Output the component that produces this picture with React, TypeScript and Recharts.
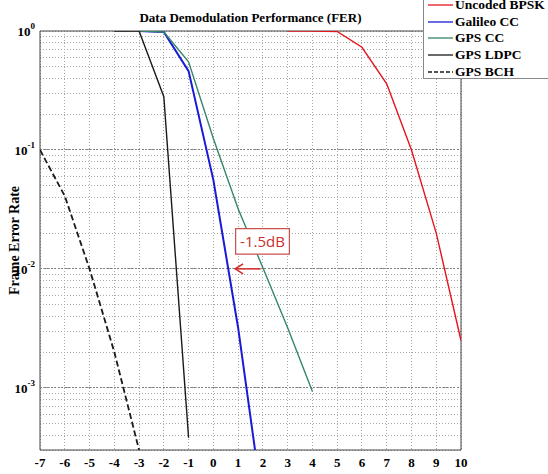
import React from 'react';
import { LineChart, Line, XAxis, YAxis, CartesianGrid, ReferenceLine, ReferenceArea } from 'recharts';

// ---- data ----
const xTicks = [-7, -6, -5, -4, -3, -2, -1, 0, 1, 2, 3, 4, 5, 6, 7, 8, 9, 10];
const yTicks = [
  0.0003, 0.0004, 0.0005, 0.0006, 0.0007, 0.0008, 0.0009,
  0.001, 0.002, 0.003, 0.004, 0.005, 0.006, 0.007, 0.008, 0.009,
  0.01, 0.02, 0.03, 0.04, 0.05, 0.06, 0.07, 0.08, 0.09,
  0.1, 0.2, 0.3, 0.4, 0.5, 0.6, 0.7, 0.8, 0.9, 1,
];
const decades = [0.001, 0.01, 0.1];

const bpskX = [3, 4, 5, 6, 7, 8, 9, 10];
const bpskY = [1, 1, 0.99, 0.73, 0.36, 0.1, 0.02, 0.0025];

const galileoX = [-3, -2, -1, 0, 1, 2];
const galileoY = [1, 0.98, 0.46, 0.056, 0.0032, 0.0001];

const gpsCcX = [-3, -2, -1, 0, 1, 2, 3, 4];
const gpsCcY = [1, 0.98, 0.55, 0.125, 0.032, 0.0102, 0.0032, 0.00093];

const ldpcX = [-4, -3, -2, -1];
const ldpcY = [1, 1, 0.28, 0.00038];

const bchX = [-7, -6, -5, -4, -3];
const bchY = [0.1, 0.041, 0.01, 0.002, 0.0003];

const toPts = (xs: number[], ys: number[]) => xs.map((x, i) => ({ x, y: ys[i] }));

const series = [
  { name: 'Uncoded BPSK', color: '#e6141c', width: 1.4, dash: undefined as string | undefined, data: toPts(bpskX, bpskY) },
  { name: 'Galileo CC', color: '#1a1ad6', width: 2, dash: undefined, data: toPts(galileoX, galileoY) },
  { name: 'GPS CC', color: '#35866a', width: 1.4, dash: undefined, data: toPts(gpsCcX, gpsCcY) },
  { name: 'GPS LDPC', color: '#1a1a1a', width: 1.4, dash: undefined, data: toPts(ldpcX, ldpcY) },
  { name: 'GPS BCH', color: '#1a1a1a', width: 1.8, dash: '6 3', data: toPts(bchX, bchY) },
];

const annotationText = '-1.5dB';
const boxX = [0.9, 3.07];
const boxY = [0.0133, 0.0218];
const arrowX = [0.88, 1.91];
const arrowY = 0.01;

const serif = '"Liberation Serif", "Times New Roman", serif';

const YTick = (props: any) => {
  const { x, y, payload } = props;
  const e = Math.log10(payload.value);
  if (Math.abs(e - Math.round(e)) > 1e-6) return <g />;
  return (
    <text x={x + 3} y={y + 5} textAnchor="end" fontFamily={serif} fontWeight="bold" fontSize={13} fill="#000">
      10<tspan dy={-7} fontSize={9}>{String(Math.round(e))}</tspan>
    </text>
  );
};

const ArrowShape = (props: any) => {
  const { x1, y1, x2, y2 } = props;
  const lx = Math.min(x1, x2);
  const rx = Math.max(x1, x2);
  return (
    <g>
      <line x1={lx} y1={y1} x2={rx} y2={y2} stroke="#d42a2a" strokeWidth={1.5} />
      <polyline points={`${lx + 8},${y1 - 5} ${lx},${y1} ${lx + 8},${y1 + 5}`} fill="none" stroke="#d42a2a" strokeWidth={1.5} />
    </g>
  );
};

export default function App() {
  return (
    <div style={{ position: 'absolute', left: 0, top: 0, width: 548, height: 474, overflow: 'hidden', background: '#fff' }}>
      <LineChart width={548} height={474} margin={{ top: 31, right: 87, bottom: 0, left: 0 }}>
        <CartesianGrid stroke="#a8a8a8" strokeDasharray="1 2" shapeRendering="crispEdges" />
        <XAxis
          type="number"
          dataKey="x"
          domain={[-7, 10]}
          ticks={xTicks}
          interval={0}
          allowDataOverflow
          height={24}
          axisLine={false}
          tickLine={false}
          tick={{ fill: '#000', fontFamily: serif, fontWeight: 'bold', fontSize: 13 }}
          label={{ value: 'Es/No [dB]', position: 'insideBottom', offset: -11, fill: '#000', fontFamily: serif, fontWeight: 'bold', fontSize: 14 }}
        />
        <YAxis
          type="number"
          scale="log"
          domain={[0.0003, 1]}
          ticks={yTicks}
          interval={0}
          allowDataOverflow
          width={40}
          axisLine={false}
          tickLine={false}
          tick={<YTick />}
          label={{ value: 'Frame Error Rate', angle: -90, position: 'insideLeft', offset: 14, style: { textAnchor: 'middle' }, fill: '#000', fontFamily: serif, fontWeight: 'bold', fontSize: 14 }}
        />
        {decades.map((d) => (
          <ReferenceLine key={d} y={d} stroke="#808080" strokeDasharray="2 1.5" shapeRendering="crispEdges" />
        ))}
        <ReferenceArea x1={-7} x2={10} y1={0.0003} y2={1} fill="none" stroke="#444" strokeWidth={1} />
        {series.map((s) => (
          <Line
            key={s.name}
            data={s.data}
            dataKey="y"
            name={s.name}
            stroke={s.color}
            strokeWidth={s.width}
            strokeDasharray={s.dash}
            dot={false}
            activeDot={false}
            isAnimationActive={false}
          />
        ))}
        <ReferenceArea
          x1={boxX[0]}
          x2={boxX[1]}
          y1={boxY[0]}
          y2={boxY[1]}
          fill="#fff"
          fillOpacity={1}
          stroke="#c9504d"
          strokeWidth={1.2}
          zIndex={2000}
        />
        <ReferenceArea
          x1={boxX[0]}
          x2={boxX[1]}
          y1={boxY[0]}
          y2={boxY[1]}
          fill="none"
          stroke="none"
          zIndex={2500}
          label={{ value: annotationText, position: 'center', fill: '#c8302c', fontFamily: '"Open Sans", sans-serif', fontSize: 15, zIndex: 3000 }}
        />
        <ReferenceLine
          segment={[{ x: arrowX[0], y: arrowY }, { x: arrowX[1], y: arrowY }]}
          stroke="#d42a2a"
          zIndex={2000}
          shape={<ArrowShape />}
        />
      </LineChart>
      <div
        style={{
          position: 'absolute',
          top: 17.5 - 9,
          left: 40,
          width: 421,
          textAlign: 'center',
          fontFamily: serif,
          fontWeight: 'bold',
          fontSize: 13,
          lineHeight: '18px',
          color: '#000',
        }}
      >
        Data Demodulation Performance (FER)
      </div>
      <div
        style={{
          position: 'absolute',
          top: -5,
          left: 423,
          width: 140,
          height: 84,
          boxSizing: 'border-box',
          border: '1px solid #888',
          background: '#fff',
          paddingTop: 1,
        }}
      >
        {series.map((s) => (
          <div key={s.name} style={{ display: 'flex', alignItems: 'center', height: 16.6 }}>
            <svg width={25} height={6} style={{ marginLeft: 4, marginRight: 2 }}>
              <line x1={0} y1={3} x2={25} y2={3} stroke={s.color} strokeWidth={1.3} strokeDasharray={s.dash ? '4 2' : undefined} />
            </svg>
            <span style={{ fontFamily: serif, fontWeight: 'bold', fontSize: 13.5, color: '#000', whiteSpace: 'nowrap' }}>{s.name}</span>
          </div>
        ))}
      </div>
    </div>
  );
}
